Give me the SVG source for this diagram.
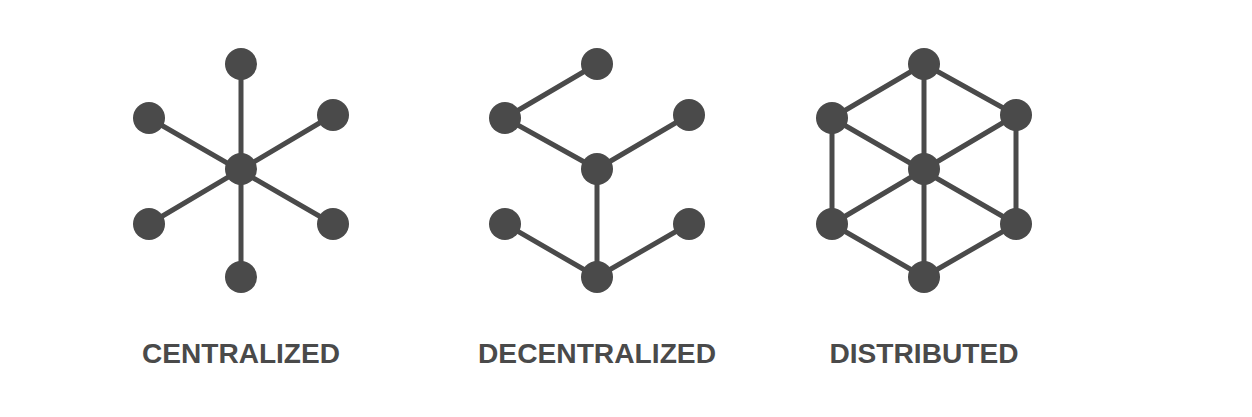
<svg xmlns="http://www.w3.org/2000/svg" width="1252" height="417" viewBox="0 0 1252 417">
<style>
.e{stroke:#4a4a4a;stroke-width:5;fill:none}
.n{fill:#4a4a4a}
.t{font-family:"Liberation Sans",Arial,sans-serif;font-weight:bold;font-size:27px;fill:#4a4a4a;text-anchor:middle}
</style>
<rect width="1252" height="417" fill="#ffffff"/>
<g id="connectors">
<path class="e" d="M241,64V277M149,118L333,224M333,115L149,224"/>
<path class="e" d="M597,64L505,118L597,169L689,115M597,169V277M505,224L597,277L689,224"/>
<path class="e" d="M924,64L1016,115V224L924,277L832,224V118Z M924,64V277M832,118L1016,224M1016,115L832,224"/>
</g>
<g id="centralized">
<circle class="n" cx="241" cy="169" r="16"/>
<circle class="n" cx="241" cy="64" r="16"/>
<circle class="n" cx="149" cy="118" r="16"/>
<circle class="n" cx="333" cy="115" r="16"/>
<circle class="n" cx="149" cy="224" r="16"/>
<circle class="n" cx="333" cy="224" r="16"/>
<circle class="n" cx="241" cy="277" r="16"/>
<text class="t" x="241" y="363" textLength="198" lengthAdjust="spacingAndGlyphs">CENTRALIZED</text>
</g>
<g id="decentralized">
<circle class="n" cx="597" cy="169" r="16"/>
<circle class="n" cx="597" cy="64" r="16"/>
<circle class="n" cx="505" cy="118" r="16"/>
<circle class="n" cx="689" cy="115" r="16"/>
<circle class="n" cx="505" cy="224" r="16"/>
<circle class="n" cx="689" cy="224" r="16"/>
<circle class="n" cx="597" cy="277" r="16"/>
<text class="t" x="597" y="363" textLength="238" lengthAdjust="spacingAndGlyphs">DECENTRALIZED</text>
</g>
<g id="distributed">
<circle class="n" cx="924" cy="169" r="16"/>
<circle class="n" cx="924" cy="64" r="16"/>
<circle class="n" cx="832" cy="118" r="16"/>
<circle class="n" cx="1016" cy="115" r="16"/>
<circle class="n" cx="832" cy="224" r="16"/>
<circle class="n" cx="1016" cy="224" r="16"/>
<circle class="n" cx="924" cy="277" r="16"/>
<text class="t" x="924" y="363" textLength="189" lengthAdjust="spacingAndGlyphs">DISTRIBUTED</text>
</g>
</svg>
